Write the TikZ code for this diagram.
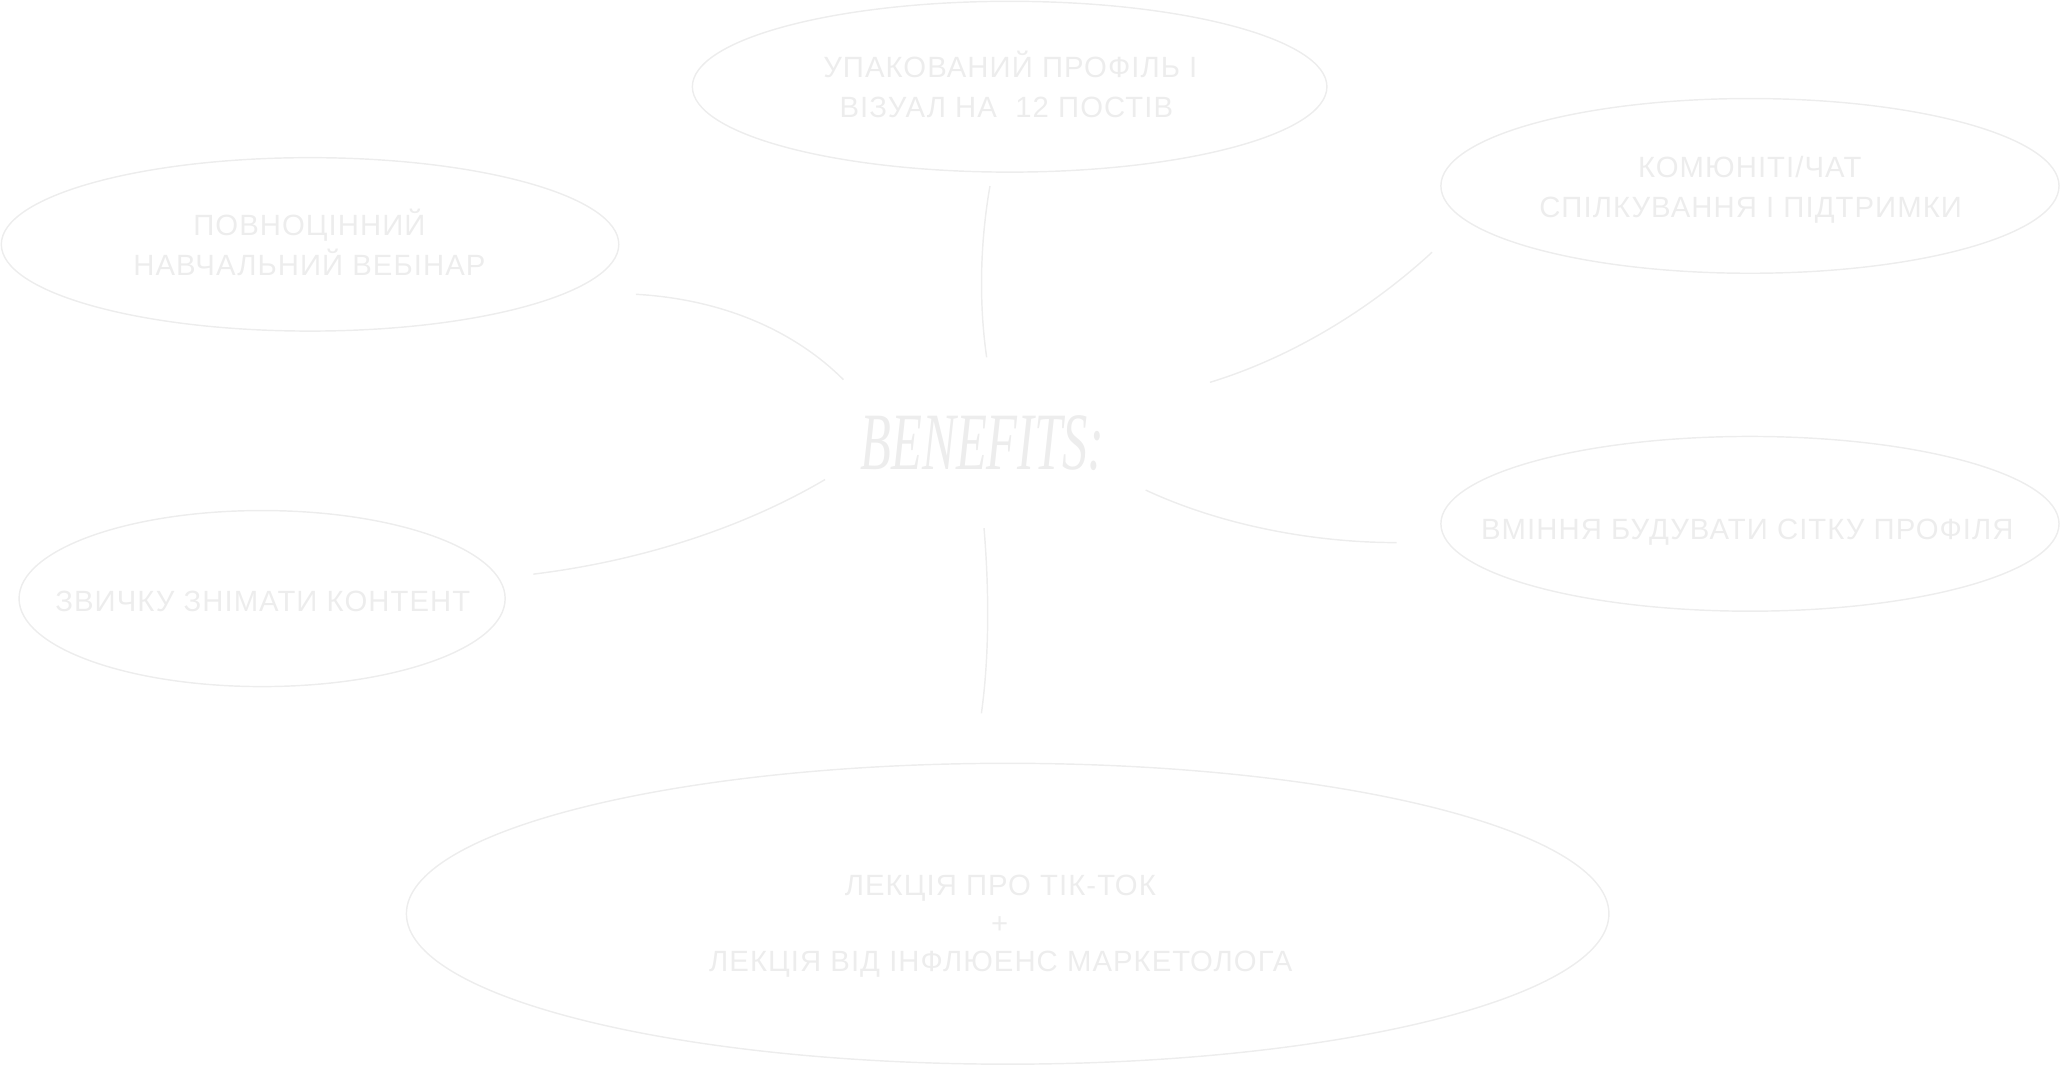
\documentclass[tikz,border=0pt]{standalone}
\usepackage{fontspec}
\setmainfont{Liberation Sans}[LetterSpace=3.6]
\newfontfamily\benfont{Liberation Serif}
\usetikzlibrary{shapes.geometric}
\definecolor{ink}{HTML}{EDEDED}
\begin{document}
\begin{tikzpicture}[x=1pt,y=-1pt,
  bubble/.style={draw=ink, line width=1.1pt, ellipse, inner sep=0pt},
  txt/.style={text=ink, font=\fontsize{22.3}{30}\selectfont, inner sep=0pt, anchor=base},
  link/.style={draw=ink, line width=1.1pt}]
\useasboundingbox (0,0) rectangle (1568,811.4);

% ellipses
\node[bubble, minimum width=483pt, minimum height=130pt] (e1) at (768.5,66) {};
\node[bubble, minimum width=470pt, minimum height=132pt] (e2) at (236,186) {};
\node[bubble, minimum width=470.5pt, minimum height=133pt] (e3) at (1332,141.5) {};
\node[bubble, minimum width=470.5pt, minimum height=133pt] (e4) at (1332,398.7) {};
\node[bubble, minimum width=370pt, minimum height=134pt] (e5) at (199.5,455.6) {};
\node[bubble, minimum width=915.3pt, minimum height=229pt] (e6) at (767,695.5) {};

% texts
\node[txt] (t1a) at (769,59.1) {УПАКОВАНИЙ ПРОФІЛЬ І};
\node[txt] (t1b) at (766,89.6) {ВІЗУАЛ НА\ \ 12 ПОСТІВ};
\node[txt] (t2a) at (235.5,179.4) {ПОВНОЦІННИЙ};
\node[txt] (t2b) at (235.5,210) {НАВЧАЛЬНИЙ ВЕБІНАР};
\node[txt] (t3a) at (1331.8,135.1) {КОМЮНІТІ/ЧАТ};
\node[txt] (t3b) at (1332.5,165.5) {СПІЛКУВАННЯ І ПІДТРИМКИ};
\node[txt] (t4) at (1330,410.6) {ВМІННЯ БУДУВАТИ СІТКУ ПРОФІЛЯ};
\node[txt] (t5) at (200,465.5) {ЗВИЧКУ ЗНІМАТИ КОНТЕНТ};
\node[txt] (t6a) at (761.4,681.8) {ЛЕКЦІЯ ПРО ТІК-ТОК};
\node[txt] (t6b) at (761,710.7) {+};
\node[txt] (t6c) at (761.7,739.7) {ЛЕКЦІЯ ВІД ІНФЛЮЕНС МАРКЕТОЛОГА};

% centre
\node[text=ink, inner sep=0pt, anchor=base] (ben) at (748,357.5)
  {\scalebox{0.62}[1]{\benfont\itshape\fontsize{62}{62}\selectfont BENEFITS:}};

% connector end points
\coordinate (a1) at (753.5,141.6); \coordinate (b1) at (751,272);
\coordinate (a2) at (484,224);     \coordinate (b2) at (642,289);
\coordinate (a3) at (1090,192);    \coordinate (b3) at (921,291);
\coordinate (a4) at (628,365);     \coordinate (b4) at (406,437);
\coordinate (a5) at (872,373);     \coordinate (b5) at (1063,413);
\coordinate (a6) at (749,402);     \coordinate (b6) at (747,543);

\draw[link] (a1) .. controls (746,185) and (745,230) .. (b1);
\draw[link] (a2) .. controls (555,228) and (608,255) .. (b2);
\draw[link] (a3) .. controls (1040,238) and (980,273) .. (b3);
\draw[link] (a4) .. controls (560,405) and (480,428) .. (b4);
\draw[link] (a5) .. controls (930,400) and (1000,413) .. (b5);
\draw[link] (a6) .. controls (753,450) and (753,500) .. (b6);
\end{tikzpicture}
\end{document}
